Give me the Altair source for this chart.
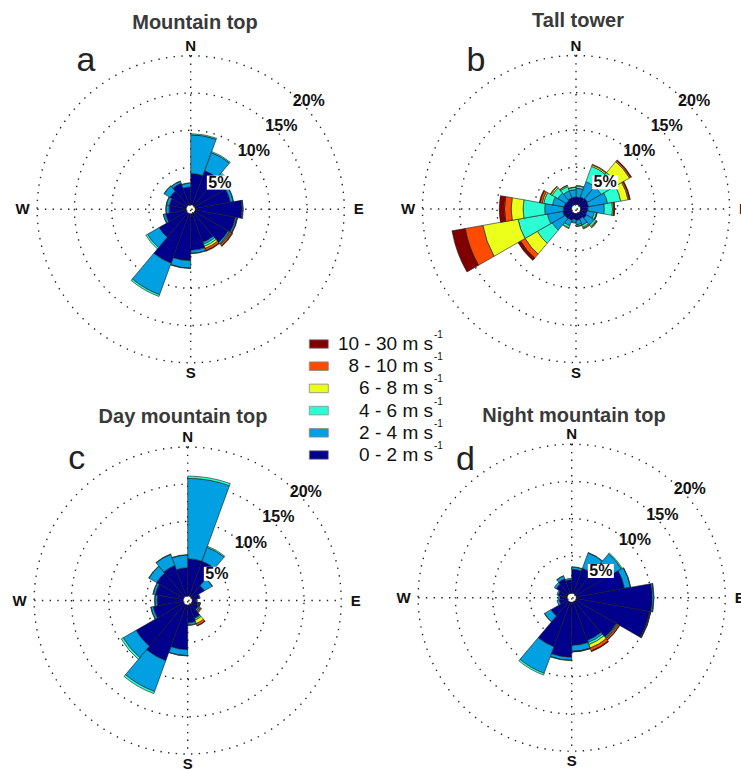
import math
import altair as alt
import pandas as pd

# ---------------- data ----------------
BIN_LABELS = ["0 - 2", "2 - 4", "4 - 6", "6 - 8", "8 - 10", "10 - 30"]
BIN_COLORS = ["#00008C", "#00A0E2", "#2BFFD4", "#EBFF1A", "#FF4B00", "#800000"]
SECTOR_START = list(range(0, 360, 20))   # degrees, clockwise from north
SECTOR_WIDTH = 20
RING_PCT = [5, 10, 15, 20]
DIR_LABELS = ["N", "E", "S", "W"]
DIR_ANGLES = [0, 90, 180, 270]
PANEL_TITLES = ["Mountain top", "Tall tower", "Day mountain top", "Night mountain top"]
PANEL_LETTERS = ["a", "b", "c", "d"]

# frequency (%) per 20-degree sector (N clockwise), one list per speed class
mt_0_2 = [4.2, 4.9, 5.0, 4.8, 6.3, 5.5, 5.2, 4.1, 4.9, 6.3, 7.1, 4.3, 2.8, 2.3, 2.3, 2.6, 3.1, 2.4]
mt_2_4 = [5.2, 2.6, 0.6, 0.4, 0.1, 0.2, 0.2, 0.3, 0.4, 1.0, 4.5, 1.8, 0.3, 0.4, 0.4, 0.9, 0.3, 0.5]
mt_4_6 = [0.15, 0.15, 0.2, 0.05, 0.05, 0.05, 0.1, 0.3, 0.05, 0.05, 0.25, 0.25, 0.05, 0.05, 0.05, 0.05, 0.05, 0.05]
mt_6_8 = [0, 0, 0, 0, 0, 0, 0.1, 0.3, 0, 0, 0, 0, 0, 0, 0, 0, 0, 0]
mt_8_10 = [0, 0, 0, 0, 0, 0.05, 0.2, 0.3, 0, 0, 0, 0, 0, 0, 0, 0, 0, 0]
mt_10_30 = [0, 0, 0, 0, 0, 0, 0.1, 0.1, 0, 0, 0, 0, 0, 0, 0, 0, 0, 0]

tt_0_2 = [1.0, 1.1, 1.2, 1.1, 1.0, 0.9, 1.0, 0.8, 0.9, 0.8, 1.0, 1.1, 1.2, 1.1, 1.0, 0.9, 1.0, 1.0]
tt_2_4 = [1.2, 2.2, 2.1, 2.6, 2.2, 1.0, 1.2, 0.9, 0.6, 0.4, 0.8, 2.0, 2.1, 2.5, 1.6, 1.3, 1.0, 1.0]
tt_4_6 = [0.3, 2.2, 2.5, 1.8, 1.1, 0.3, 0.3, 0.3, 0.2, 0.1, 0.3, 2.3, 4.0, 2.9, 1.2, 0.9, 0.6, 0.3]
tt_6_8 = [0.05, 0.2, 1.9, 1.0, 0.15, 0.05, 0.1, 0.15, 0.05, 0, 0.1, 1.9, 4.8, 1.6, 0.2, 0.2, 0.15, 0.05]
tt_8_10 = [0, 0.1, 0.2, 0.2, 0.1, 0.05, 0.1, 0.1, 0, 0, 0, 0.7, 2.4, 0.9, 0.3, 0.1, 0.05, 0]
tt_10_30 = [0, 0, 0.1, 0.1, 0.05, 0, 0, 0, 0, 0, 0, 0.4, 1.8, 0.7, 0.1, 0, 0, 0]

dm_0_2 = [5.0, 5.0, 2.0, 1.0, 0.5, 0.8, 1.0, 1.9, 2.4, 6.0, 8.0, 7.4, 4.1, 3.5, 3.8, 4.2, 4.4, 3.8]
dm_2_4 = [10.8, 2.0, 1.2, 0.1, 0.1, 0.1, 0.2, 0.1, 0.3, 0.8, 4.4, 2.0, 0.3, 0.3, 0.3, 1.2, 1.6, 1.7]
dm_4_6 = [0.3, 0.15, 0.05, 0, 0.05, 0.05, 0.1, 0.2, 0.05, 0.05, 0.3, 0.3, 0.05, 0.05, 0.05, 0.05, 0.05, 0.05]
dm_6_8 = [0, 0, 0, 0, 0, 0.05, 0.1, 0.5, 0, 0, 0, 0, 0, 0, 0, 0, 0, 0]
dm_8_10 = [0, 0, 0, 0, 0, 0.1, 0.15, 0.3, 0, 0, 0, 0, 0, 0, 0, 0, 0, 0]
dm_10_30 = [0, 0, 0, 0, 0, 0.05, 0, 0.05, 0, 0, 0, 0, 0, 0, 0, 0, 0, 0]

nm_0_2 = [3.2, 3.6, 5.5, 6.6, 10.2, 10.0, 6.3, 5.5, 5.8, 7.4, 6.4, 2.6, 1.1, 1.0, 1.2, 1.8, 2.1, 1.8]
nm_2_4 = [0.3, 2.2, 1.6, 0.8, 0.2, 0.1, 0.1, 0.3, 0.8, 0.4, 3.8, 1.0, 0.3, 0.2, 0.2, 0.3, 0.4, 0.2]
nm_4_6 = [0.05, 0.05, 0.15, 0.05, 0.05, 0.05, 0.1, 0.3, 0.05, 0.05, 0.25, 0.05, 0, 0, 0, 0, 0.05, 0]
nm_6_8 = [0, 0, 0, 0, 0, 0, 0.1, 0.5, 0, 0, 0, 0, 0, 0, 0, 0, 0, 0]
nm_8_10 = [0, 0, 0, 0, 0, 0.05, 0.2, 0.4, 0.05, 0, 0, 0, 0, 0, 0, 0, 0, 0]
nm_10_30 = [0, 0, 0, 0, 0, 0, 0.05, 0.1, 0, 0, 0, 0, 0, 0, 0, 0, 0, 0]

PANEL_DATA = [
    [mt_0_2, mt_2_4, mt_4_6, mt_6_8, mt_8_10, mt_10_30],
    [tt_0_2, tt_2_4, tt_4_6, tt_6_8, tt_8_10, tt_10_30],
    [dm_0_2, dm_2_4, dm_4_6, dm_6_8, dm_8_10, dm_10_30],
    [nm_0_2, nm_2_4, nm_4_6, nm_6_8, nm_8_10, nm_10_30],
]

# ---------------- layout ----------------
W, H = 741, 770
R0 = 4.5        # px, radius of the central hole
RMAX = 153.5    # px, radius of the 20 % ring
K = (RMAX - R0) / 20.0
RSCALE = alt.Scale(type="linear", domain=[0, 20], range=[R0, RMAX])
CSCALE = alt.Scale(domain=BIN_LABELS, range=BIN_COLORS)
FONT = "Liberation Sans"
DOT = [1.4, 6.3]

LAYOUT = [
    dict(cx=190.7, cy=209.3, tx=195, ty=22.5, lx=86, ly=71),
    dict(cx=576.0, cy=209.0, tx=578, ty=20.5, lx=476, ly=70.7),
    dict(cx=187.7, cy=600.5, tx=183, ty=417, lx=76.7, ly=469.3),
    dict(cx=571.7, cy=597.7, tx=574, ty=416, lx=465.5, ly=470),
]

PCT_ANGLE = math.radians(47.5)


def to_r(px):
    return (px - R0) / K


def panel_layers(i):
    lay = LAYOUT[i]
    cx, cy = lay["cx"], lay["cy"]
    X, Y = alt.value(cx), alt.value(cy)
    one = alt.Chart(pd.DataFrame({"p": [0]}))

    rings = alt.Chart(pd.DataFrame({"p": RING_PCT})).mark_arc(
        filled=False, stroke="#222222", strokeWidth=1.4, strokeDash=DOT
    ).encode(x=X, y=Y, theta=alt.value(0), theta2=alt.value(2 * math.pi),
             radius=alt.Radius("p:Q", scale=RSCALE, stack=None))

    hline = one.mark_rule(stroke="#222222", strokeWidth=1.4, strokeDash=DOT).encode(
        x=alt.value(cx - RMAX), x2=alt.value(cx + RMAX), y=Y)
    vline = one.mark_rule(stroke="#222222", strokeWidth=1.4, strokeDash=DOT).encode(
        y=alt.value(cy - RMAX), y2=alt.value(cy + RMAX), x=X)

    hole = one.mark_arc(fill="white", stroke="white", strokeWidth=0.5).encode(
        x=X, y=Y, theta=alt.value(0), theta2=alt.value(2 * math.pi),
        radius=alt.Radius("p:Q", scale=RSCALE, stack=None))

    rows = []
    data = PANEL_DATA[i]
    for s, start in enumerate(SECTOR_START):
        cum = 0.0
        for b, lab in enumerate(BIN_LABELS):
            v = data[b][s]
            if v <= 0:
                continue
            rows.append(dict(bin=lab, t0=math.radians(start),
                             t1=math.radians(start + SECTOR_WIDTH),
                             r0=cum, r1=cum + v))
            cum += v
    bars = alt.Chart(pd.DataFrame(rows)).mark_arc(
        stroke="#1a1a1a", strokeWidth=0.6
    ).encode(
        x=X, y=Y,
        theta=alt.Theta("t0:Q", scale=None, stack=None), theta2="t1:Q",
        radius=alt.Radius("r1:Q", scale=RSCALE, stack=None), radius2="r0:Q",
        color=alt.Color("bin:N", scale=CSCALE, legend=None),
    )

    dir_df = pd.DataFrame({
        "lab": DIR_LABELS,
        "th": [math.radians(a) for a in DIR_ANGLES],
        "r": [to_r(163.5) if a in (0, 180) else to_r(168) for a in DIR_ANGLES],
    })
    dirs = alt.Chart(dir_df).mark_text(
        font=FONT, fontSize=15, fontWeight="bold", color="#111111",
        align="center", baseline="middle"
    ).encode(x=X, y=Y, theta=alt.Theta("th:Q", scale=None, stack=None),
             radius=alt.Radius("r:Q", scale=RSCALE, stack=None), text="lab:N")

    pct_df = pd.DataFrame({
        "lab": [f"{p}%" for p in RING_PCT],
        "th": [PCT_ANGLE] * len(RING_PCT),
        "r": [p - 0.3 if p == 5 else p + 0.9 for p in RING_PCT],
    })
    # white box behind the 5 % label
    r5 = R0 + K * (RING_PCT[0] - 0.3)
    bx = cx + r5 * math.sin(PCT_ANGLE)
    by = cy - r5 * math.cos(PCT_ANGLE)
    box = one.mark_rect(fill="white").encode(
        x=alt.value(bx - 13), x2=alt.value(bx + 13),
        y=alt.value(by - 7), y2=alt.value(by + 7))
    pcts = alt.Chart(pct_df).mark_text(
        font=FONT, fontSize=16, fontWeight="bold", color="#111111",
        align="center", baseline="middle"
    ).encode(x=X, y=Y, theta=alt.Theta("th:Q", scale=None, stack=None),
             radius=alt.Radius("r:Q", scale=RSCALE, stack=None), text="lab:N")

    title = alt.Chart(pd.DataFrame({"t": [PANEL_TITLES[i]]})).mark_text(
        font=FONT, fontSize=20, fontWeight="bold", color="#3a3a3a",
        align="center", baseline="middle"
    ).encode(x=alt.value(lay["tx"]), y=alt.value(lay["ty"]), text="t:N")

    letter = alt.Chart(pd.DataFrame({"t": [PANEL_LETTERS[i]]})).mark_text(
        font=FONT, fontSize=34, color="#222222", align="center", baseline="alphabetic"
    ).encode(x=alt.value(lay["lx"]), y=alt.value(lay["ly"]), text="t:N")

    return [rings, hline, vline, hole, bars, box, pcts, dirs, title, letter]


layers = []
for i in range(4):
    layers += panel_layers(i)

# ---------------- custom legend ----------------
leg_order = BIN_LABELS[::-1]
leg_df = pd.DataFrame({"bin": leg_order, "txt": [f"{b} m s" for b in leg_order], "sup": ["-1"] * 6})
YS = alt.Y("bin:N", scale=alt.Scale(type="point", domain=leg_order, range=[344, 455], padding=0), axis=None)
swatch = alt.Chart(leg_df).mark_point(
    shape="M-1,-0.45L1,-0.45L1,0.45L-1,0.45Z", size=361, filled=True, opacity=1,
    stroke="#888888", strokeWidth=0.8
).encode(x=alt.value(318.8), y=YS, color=alt.Color("bin:N", scale=CSCALE, legend=None))
leg_text = alt.Chart(leg_df).mark_text(
    font=FONT, fontSize=19, color="#111111", align="right", baseline="middle"
).encode(x=alt.value(433), y=YS, text="txt:N")
leg_sup = alt.Chart(leg_df).mark_text(
    font=FONT, fontSize=10, color="#111111", align="left", baseline="middle", dy=-9
).encode(x=alt.value(434), y=YS, text="sup:N")
layers += [swatch, leg_text, leg_sup]

chart = alt.layer(*layers).properties(
    width=W, height=H, padding=0,
    autosize=alt.AutoSizeParams(type="none"),
    background="white",
).configure_view(stroke=None)

chart.save("out.html", embed_options={"renderer": "svg", "actions": False})
